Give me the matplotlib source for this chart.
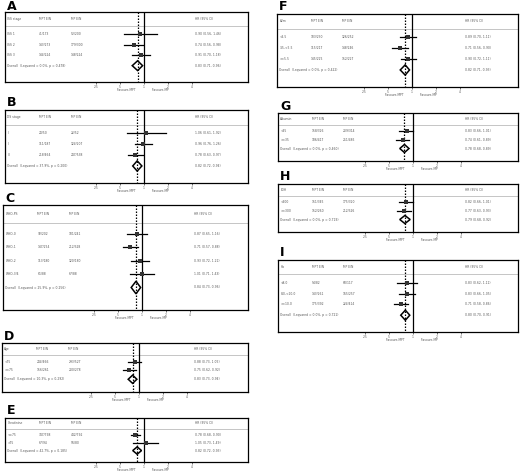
import numpy as np
import matplotlib
matplotlib.use("Agg")
import matplotlib.pyplot as plt
import matplotlib.transforms as mt
from matplotlib.patches import Polygon

W, H = 520, 472
# panel data
A_rows = ["ISS 1", "ISS 2", "ISS 3"]
A_mpt = ["41/173", "143/273", "144/224"]
A_mp = ["52/200", "179/300", "148/224"]
A_hr = [0.90, 0.74, 0.91]
A_lo = [0.56, 0.56, 0.70]
A_hi = [1.46, 0.98, 1.18]
A_ov = [0.83, 0.71, 0.96]
A_het = "Overall  (I-squared = 0.0%, p = 0.478)"

B_rows = ["I", "II", "III"]
B_mpt = ["24/50", "111/187", "218/464"]
B_mp = ["22/52", "124/207", "247/538"]
B_hr = [1.06, 0.96, 0.78]
B_lo = [0.61, 0.76, 0.63]
B_hi = [1.92, 1.26, 0.97]
B_ov = [0.82, 0.72, 0.94]
B_het = "Overall  (I-squared = 37.9%, p = 0.200)"

C_rows = ["WHO-0", "WHO-1", "WHO-2", "WHO-3/4"]
C_mpt = ["92/202", "147/254", "113/180", "61/88"]
C_mp = ["101/241", "212/328", "120/180", "67/88"]
C_hr = [0.87, 0.71, 0.93, 1.01]
C_lo = [0.65, 0.57, 0.72, 0.71]
C_hi = [1.16, 0.88, 1.21, 1.43]
C_ov = [0.84, 0.73, 0.96]
C_het = "Overall  (I-squared = 25.9%, p = 0.256)"

D_rows = ["<75", ">=75"]
D_mpt = ["244/466", "156/261"]
D_mp = ["293/527", "200/278"]
D_hr = [0.88, 0.75]
D_lo = [0.73, 0.62]
D_hi = [1.05, 0.92]
D_ov = [0.83, 0.73, 0.94]
D_het = "Overall  (I-squared = 10.3%, p = 0.292)"

E_rows = ["<=75", ">75"]
E_mpt = ["347/798", "67/94"]
E_mp = ["442/792", "56/80"]
E_hr = [0.78, 1.05]
E_lo = [0.68, 0.73]
E_hi = [0.90, 1.49]
E_ov = [0.82, 0.72, 0.93]
E_het = "Overall  (I-squared = 42.7%, p = 0.185)"

F_rows = ["<3.5", "3.5-<5.5", ">=5.5"]
F_mpt = ["103/230", "115/217", "145/225"]
F_mp = ["126/252", "148/246", "152/227"]
F_hr = [0.89, 0.71, 0.90]
F_lo = [0.70, 0.56, 0.72]
F_hi = [1.11, 0.90, 1.11]
F_ov = [0.82, 0.71, 0.93]
F_het = "Overall  (I-squared = 0.0%, p = 0.422)"

G_rows = ["<35", ">=35"]
G_mpt = ["158/326", "186/417"]
G_mp = ["209/314", "251/485"]
G_hr = [0.83, 0.74]
G_lo = [0.66, 0.61]
G_hi = [1.01, 0.89]
G_ov = [0.78, 0.68, 0.89]
G_het = "Overall  (I-squared = 0.0%, p = 0.460)"

H_rows = ["<300", ">=300"]
H_mpt = ["151/345", "152/260"]
H_mp = ["175/320", "212/326"]
H_hr = [0.82, 0.77]
H_lo = [0.66, 0.63]
H_hi = [1.01, 0.93]
H_ov = [0.79, 0.68, 0.92]
H_het = "Overall  (I-squared = 0.0%, p = 0.719)"

I_rows = ["<8.0", "8.0-<10.0", ">=10.0"]
I_mpt = ["54/82", "143/261", "175/392"]
I_mp = ["60/117", "165/257", "224/414"]
I_hr = [0.83, 0.83, 0.71]
I_lo = [0.62, 0.66, 0.58]
I_hi = [1.11, 1.05, 0.86]
I_ov = [0.80, 0.70, 0.91]
I_het = "Overall  (I-squared = 0.0%, p = 0.721)"

panels = [
    ("A", "ISS stage", A_rows, A_mpt, A_mp, A_hr, A_lo, A_hi, A_ov, A_het, (5, 12, 248, 82), 139),
    ("B", "DS stage", B_rows, B_mpt, B_mp, B_hr, B_lo, B_hi, B_ov, B_het, (5, 110, 248, 183), 139),
    ("C", "WHO-PS", C_rows, C_mpt, C_mp, C_hr, C_lo, C_hi, C_ov, C_het, (3, 205, 248, 310), 139),
    ("D", "Age", D_rows, D_mpt, D_mp, D_hr, D_lo, D_hi, D_ov, D_het, (2, 343, 248, 392), 137),
    ("E", "Creatinine", E_rows, E_mpt, E_mp, E_hr, E_lo, E_hi, E_ov, E_het, (5, 418, 248, 462), 139),
    ("F", "b2m", F_rows, F_mpt, F_mp, F_hr, F_lo, F_hi, F_ov, F_het, (277, 14, 518, 87), 135),
    ("G", "Albumin", G_rows, G_mpt, G_mp, G_hr, G_lo, G_hi, G_ov, G_het, (278, 113, 518, 161), 135),
    ("H", "LDH", H_rows, H_mpt, H_mp, H_hr, H_lo, H_hi, H_ov, H_het, (278, 184, 518, 232), 135),
    ("I", "Hb", I_rows, I_mpt, I_mp, I_hr, I_lo, I_hi, I_ov, I_het, (278, 260, 518, 332), 135),
]
ticks = [0.25, 0.5, 1, 2, 4]
tlabels = [".25", ".5", "1", "2", "4"]
PXD = 23.8  # pixels per doubling

fig = plt.figure(figsize=(W / 100, H / 100), dpi=100)
fs = 2.2
tc = "#555555"
for (lab, head, rows, mpt, mp, hr, lo, hi, ov, het, (x0, y0, x1, y1), off) in panels:
    ax = fig.add_axes([x0 / W, 1 - y1 / H, (x1 - x0) / W, (y1 - y0) / H])
    ax.set_xscale("log", base=2)
    left = off / PXD
    right = (x1 - x0 - off) / PXD
    ax.set_xlim(2 ** -left, 2 ** right)
    n = len(rows)
    ytop, ybot = -0.6, n + 2.4
    ax.set_ylim(ybot, ytop)
    for s in ax.spines.values():
        s.set_linewidth(0.9)
    T = mt.blended_transform_factory(ax.transAxes, ax.transData)
    kw = dict(transform=T, fontsize=fs, va="center", color=tc)
    ax.text(0.01, 0, head, **kw)
    ax.text(0.14, 0, "MPT E/N", **kw)
    ax.text(0.27, 0, "MP E/N", **kw)
    ax.text(0.78, 0, "HR (95% CI)", **kw)
    ax.axhline(0.6, color="#bbbbbb", lw=0.6)
    for i in range(n):
        y = 1.3 + i * 0.9
        ax.text(0.01, y, rows[i], **kw)
        ax.text(0.14, y, mpt[i], **kw)
        ax.text(0.27, y, mp[i], **kw)
        ax.text(0.78, y, f"{hr[i]:.2f} ({lo[i]:.2f}, {hi[i]:.2f})", **kw)
        ax.plot([lo[i], hi[i]], [y, y], color="black", lw=0.9, zorder=3)
        ax.plot([hr[i]], [y], marker="s", color="#333333", ms=2.5, mew=0, zorder=4)
    yo = 1.3 + n * 0.9
    ax.text(0.01, yo, het, **kw)
    ax.text(0.78, yo, f"{ov[0]:.2f} ({ov[1]:.2f}, {ov[2]:.2f})", **kw)
    d = 0.42
    ax.add_patch(Polygon([[ov[1], yo], [ov[0], yo - d], [ov[2], yo], [ov[0], yo + d]],
                         closed=True, fill=False, ec="black", lw=1.1, zorder=5))
    ax.axvline(1, color="black", lw=0.9)
    ax.plot([ov[0], ov[0]], [ytop, ybot], color="black", lw=0.9, ls=(0, (1.2, 1.2)))
    ax.set_xticks(ticks)
    ax.set_xticklabels(tlabels, fontsize=fs, color=tc)
    ax.minorticks_off()
    ax.tick_params(axis="x", length=1.5, width=0.4, pad=0.5)
    ax.set_yticks([])
    B = mt.blended_transform_factory(ax.transData, ax.transAxes)
    ax.annotate("Favours MPT", (0.6, 0), xycoords=B, xytext=(0, -4.5), textcoords="offset points",
                fontsize=fs, ha="center", va="top", color=tc)
    ax.annotate("Favours MP", (1.6, 0), xycoords=B, xytext=(0, -4.5), textcoords="offset points",
                fontsize=fs, ha="center", va="top", color=tc)
    fig.text((x0 + 2) / W, 1 - max(y0 - 7, 7) / H, lab, fontsize=9, fontweight="bold", va="center")

fig.savefig("out.png", dpi=100)
